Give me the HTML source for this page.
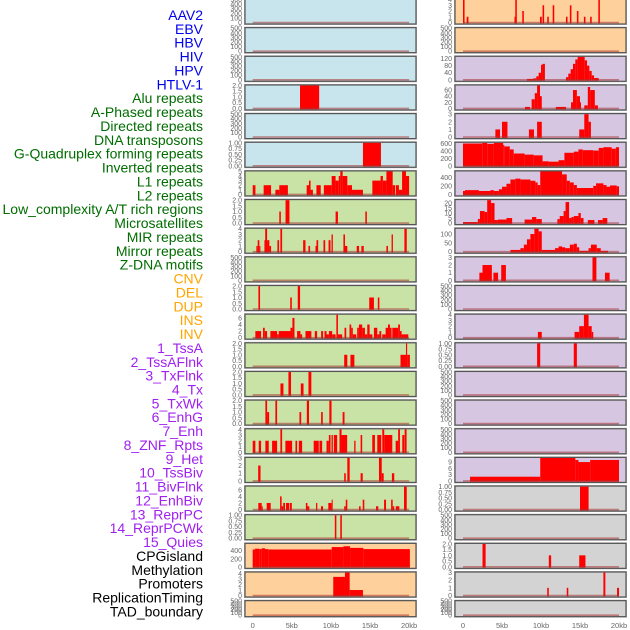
<!DOCTYPE html>
<html><head><meta charset="utf-8"><style>
html,body{margin:0;padding:0;background:#fff;}
svg{display:block;font-family:"Liberation Sans",sans-serif;}
</style></head><body>
<svg id="chart" width="630" height="630" viewBox="0 0 630 630" xmlns="http://www.w3.org/2000/svg">
<g id="labels"></g>
<g id="panels"></g>
<g id="xaxes"></g>
</svg>
<script>
const trackLabels = ["AAV2","EBV","HBV","HIV","HPV","HTLV-1","Alu repeats","A-Phased repeats","Directed repeats","DNA transposons","G-Quadruplex forming repeats","Inverted repeats","L1 repeats","L2 repeats","Low_complexity A/T rich regions","Microsatellites","MIR repeats","Mirror repeats","Z-DNA motifs","CNV","DEL","DUP","INS","INV","1_TssA","2_TssAFlnk","3_TxFlnk","4_Tx","5_TxWk","6_EnhG","7_Enh","8_ZNF_Rpts","9_Het","10_TssBiv","11_BivFlnk","12_EnhBiv","13_ReprPC","14_ReprPCWk","15_Quies","CPGisland","Methylation","Promoters","ReplicationTiming","TAD_boundary"];
const labelGroups = ["blue","blue","blue","blue","blue","blue","green","green","green","green","green","green","green","green","green","green","green","green","green","orange","orange","orange","orange","orange","purple","purple","purple","purple","purple","purple","purple","purple","purple","purple","purple","purple","purple","purple","purple","black","black","black","black","black"];
const leftBg = ["blue","blue","blue","blue","blue","blue","green","green","green","green","green","green","green","green","green","green","green","green","green","orange","orange","orange"];
const rightBg = ["orange","orange","purple","purple","purple","purple","purple","purple","purple","purple","purple","purple","purple","purple","purple","purple","purple","gray","gray","gray","gray","gray"];
const xTicks = [0,5,10,15,20];
const xTickLabels = ["0","5kb","10kb","15kb","20kb"];
const E = [0,100,200,300,400,500];
const leftYMax = [500,500,500,2,500,1,5,2,4,500,2,7,2,2,2,4,3,7,1,570,4.2,500];
const leftTicks = [E,E,E,[0,0.5,1,1.5,2],E,[0,0.25,0.5,0.75,1],[0,1,2,3,4,5],[0,0.5,1,1.5,2],[0,1,2,3,4],E,[0,0.5,1,1.5,2],[0,2,4,6],[0,0.5,1,1.5,2],[0,0.5,1,1.5,2],[0,0.5,1,1.5,2],[0,1,2,3,4],[0,1,2,3],[0,2,4,6],[0,0.25,0.5,0.75,1],[0,200,400],[0,1,2,3,4],E];
const leftBars = [
[],[],[],
[[6.05,8.5,2]],
[],
[[14.1,16.4,1]],
[[0,0.35,2],[1.4,2.35,2],[2.9,3.4,1],[3.4,4.5,2],[6.9,7.2,2],[7.2,7.4,3],[7.4,7.7,1],[8.15,8.7,2],[9.1,10.1,2],[10.1,10.6,4],[10.6,11.0,3],[11.0,11.2,4],[11.2,11.5,5],[11.5,12.1,4],[12.1,12.7,2],[12.7,14.1,1],[15.3,16.35,3],[16.35,16.65,4],[16.65,17.1,3],[17.1,17.9,5],[17.9,18.2,2],[18.3,18.7,2],[18.7,19.1,1],[19.1,19.6,5],[19.6,20,4]],
[[3.4,3.6,1],[4.2,4.7,2],[10.6,10.9,1],[14.4,14.6,1]],
[[0.47,0.64,1],[0.64,0.85,2],[0.85,0.98,1],[1.5,1.6,2],[1.6,1.84,4],[1.84,2.13,2],[2.13,2.35,1],[3.16,3.37,2],[3.54,3.76,4],[6.45,6.75,2],[7.13,7.34,1],[8.03,8.16,1],[8.16,8.37,2],[9.05,9.27,2],[9.7,9.95,2],[10.08,10.25,3],[11.6,11.8,3],[11.8,12.1,1],[13.3,13.6,1],[13.9,14.2,1],[17.1,17.3,1],[17.76,17.93,3],[19.4,19.7,4]],
[],
[[0.73,0.94,2],[4.8,5.0,1],[5.76,6.06,2],[14.9,15.5,1],[16.0,16.2,1]],
[[0.34,1.07,2],[1.32,1.54,3],[1.54,1.84,2],[2.26,3.12,2],[3.12,3.33,1],[3.33,4.83,2],[4.83,5.08,3],[5.08,5.34,6],[5.68,6.1,2],[6.1,6.32,1],[6.75,7.5,2],[7.94,8.24,2],[8.75,9.0,2],[9.18,9.44,2],[9.44,9.74,1],[9.74,10.16,2],[10.16,10.6,1],[10.7,10.9,7],[10.9,11.44,1],[11.74,11.96,3],[12.38,12.6,4],[12.6,12.8,3],[12.8,13.24,1],[13.36,13.58,3],[13.58,14.0,4],[14.0,14.35,3],[14.35,14.65,1],[14.65,14.95,4],[14.95,15.3,1],[15.5,15.93,3],[15.93,16.2,1],[16.2,16.44,2],[16.57,17.0,1],[17.0,17.3,3],[17.3,17.55,4],[17.55,17.76,3],[17.85,18.6,3],[18.6,18.83,4],[18.83,19.04,2],[19.04,19.9,1]],
[[11.7,12.1,1],[12.5,13.0,1],[18.9,19.6,1],[19.6,19.75,2],[19.75,20.1,1]],
[[3.55,3.93,1],[4.57,4.9,2],[6.15,6.5,1],[7.13,7.5,2]],
[[1.62,1.84,2],[1.84,2.1,1],[2.9,3.12,2],[5.98,6.2,1],[6.92,7.2,2],[8.75,8.96,1],[9.8,10.08,2],[11.5,11.74,1]],
[[0,0.34,2],[0.77,1.07,2],[1.62,2.05,2],[2.48,3.12,2],[3.54,3.76,4],[4.18,5.04,2],[5.47,5.68,2],[5.9,6.32,2],[7.8,8.45,2],[8.54,8.88,2],[9.44,9.74,2],[9.74,9.95,3],[10.08,10.25,3],[10.38,10.8,3],[11.1,11.36,4],[11.36,12.08,3],[12.98,13.15,2],[13.8,14.0,3],[15.29,15.63,3],[15.93,16.44,3],[16.57,16.82,4],[16.82,17.85,3],[18.28,18.6,2],[18.6,18.83,4],[19.13,19.39,3],[19.43,19.68,4]],
[[0.7,1.0,2],[11.7,11.9,1],[12.1,12.4,3],[13.8,14.07,1],[16.15,16.5,3],[16.5,16.75,1],[17.8,18.1,1]],
[[0.72,1.15,2],[1.15,1.28,1],[1.79,2.3,2],[3.5,3.7,4],[3.7,3.9,1],[3.9,4.13,2],[4.26,4.68,2],[4.77,5.0,2],[6.8,7.0,2],[7.0,7.24,1],[8.1,8.26,2],[8.73,9.0,1],[9.67,10.1,2],[10.1,10.2,3],[11.7,11.9,1],[11.9,12.1,3],[13.6,13.8,1],[14.07,14.27,3],[15.77,16.06,1],[16.8,17.05,3],[17.7,17.9,3],[17.9,18.1,1],[18.3,18.75,1],[19.35,19.7,7]],
[[10.5,10.7,1],[11.2,11.4,1]],
[[0,0.3,430],[0.3,0.85,450],[0.85,1.15,440],[1.15,1.57,460],[1.57,2.0,440],[2.0,10.1,430],[10.1,11.6,490],[11.6,12.45,510],[12.45,14.15,470],[14.15,20.1,440]],
[[10.3,11.8,3.4],[11.8,12.4,4.2],[12.4,14.1,1]],
[]
];
const rightYMax = [4,500,130,75,3,620,540,23,130,3,500,4,1,500,500,500,11,1,500,2,3,500];
const rightTicks = [[0,1,2,3,4],E,[0,40,80,120],[0,20,40,60],[0,1,2,3],[0,200,400,600],[0,200,400],[0,5,10,15,20],[0,50,100],[0,1,2,3],E,[0,1,2,3,4],[0,0.25,0.5,0.75,1],E,E,E,[0,3,6,9],[0,0.25,0.5,0.75,1],E,[0,0.5,1,1.5,2],[0,1,2,3],E];
const rightBars = [
[[0,0.2,4],[0.47,0.7,1],[6.6,6.7,1],[6.7,6.9,4],[7.6,7.8,2],[9.87,10.1,1],[10.2,10.4,3],[10.8,11.0,1],[11.5,11.7,3],[13.2,13.4,1],[13.7,13.9,3],[14.6,14.8,2],[15.5,15.7,1],[16.3,16.5,1],[17.35,17.55,4]],
[],
[[8.2,9.0,5],[9.0,9.4,8],[9.4,9.7,20],[9.7,10.0,40],[10.0,10.2,85],[10.2,10.5,90],[13.2,13.5,15],[13.5,13.8,35],[13.8,14.1,60],[14.1,14.4,90],[14.4,14.7,115],[14.7,15.6,130],[15.6,15.9,110],[15.9,16.2,80],[16.2,16.5,50],[16.5,16.8,25],[16.8,17.4,10]],
[[7.95,8.6,5],[8.8,9.2,30],[9.2,9.5,50],[9.5,9.87,75],[9.87,10.1,40],[11.9,13.2,5],[13.85,14.1,20],[14.1,14.6,60],[14.6,15.0,40],[15.0,15.1,20],[15.55,16.0,10],[16.0,16.3,70],[16.3,16.9,60],[16.9,17.3,10]],
[[4.15,4.75,1],[5.0,5.7,2],[8.45,9.1,1],[9.5,10.1,2],[14.9,15.55,1],[15.55,16.1,3],[16.1,16.4,2]],
[[0,2.47,600],[2.47,3.1,615],[3.1,3.96,590],[3.96,5.15,615],[5.15,5.3,560],[5.3,6.0,520],[6.0,6.5,440],[6.5,7.9,330],[7.9,9.06,300],[9.06,10.2,280],[10.2,11.0,120],[11.0,12.25,110],[12.25,13.0,150],[13.0,14.2,350],[14.2,14.8,380],[14.8,15.36,440],[15.36,16.7,420],[16.7,17.4,410],[17.4,18.0,480],[18.0,19.06,500],[19.06,19.6,460],[19.6,20,500]],
[[0,0.26,80],[0.26,2.04,100],[2.04,3.53,80],[3.53,3.96,100],[3.96,4.6,80],[4.6,5.0,120],[5.0,5.57,180],[5.57,6.08,250],[6.08,6.7,350],[6.7,7.36,370],[7.36,8.64,350],[8.64,9.28,320],[9.28,9.57,280],[9.57,9.9,220],[9.9,12.7,540],[12.7,13.3,470],[13.3,13.7,320],[13.7,14.2,280],[14.2,14.6,220],[14.6,16.7,150],[16.7,17.06,200],[17.06,18.0,260],[18.0,18.4,220],[18.4,18.85,180],[18.85,19.7,210],[19.7,20,190]],
[[0,1.9,1],[1.9,2.17,4],[2.17,2.77,12],[2.77,3.1,11],[3.1,3.6,23],[3.6,4.04,20],[4.04,4.47,3],[4.47,5.57,3.5],[5.57,6.3,5],[7.9,8.85,3.5],[8.85,9.4,6],[9.4,10.1,4],[12.1,12.4,4],[12.4,12.9,7],[12.9,13.15,12],[13.15,13.6,21],[13.6,13.9,5],[13.9,14.2,6],[14.2,14.8,7],[14.8,15.1,10],[15.1,15.45,5],[16.0,16.85,3],[17.3,17.9,3],[17.9,18.5,5]],
[[6.08,7.36,10],[7.36,7.8,20],[7.8,8.2,40],[8.2,8.64,70],[8.64,9.15,100],[9.15,9.7,130],[9.7,10.1,115],[10.1,11.8,10],[11.8,12.25,20],[12.25,12.7,30],[12.7,13.1,25],[13.1,13.7,20],[13.7,14.2,40],[14.2,14.6,45],[14.6,14.9,25],[14.9,16.1,5],[16.1,16.4,20],[16.4,17.15,40],[17.15,17.66,20],[17.66,18.6,5]],
[[2.1,2.5,1],[2.5,3.7,2],[3.9,4.5,1],[4.9,5.5,2],[16.6,17.1,3],[18.2,18.8,1]],
[],
[[9.6,10.1,1],[14.3,14.9,1],[14.9,15.5,2],[15.5,16.1,4],[16.1,16.5,2],[16.5,16.7,1]],
[[9.5,9.9,1],[14.2,14.6,1]],
[],[],[],
[[0.9,9.9,2],[9.9,14.4,11],[14.4,14.8,10],[14.8,16.3,9],[16.3,16.6,10],[16.6,20,10]],
[[15.0,16.1,1]],
[],
[[2.5,2.9,2],[11.0,11.3,1],[14.9,15.7,1]],
[[10.8,11.0,1],[13.3,13.5,1],[18.0,18.25,3],[19.75,20,1]],
[]
];

const NS = "http://www.w3.org/2000/svg";
const colorMap = {blue:"#0000ee",green:"#006d00",orange:"#ffa500",purple:"#a020f0",black:"#000"};
const bgMap = {blue:"#c8e4ec",green:"#c9e2a6",orange:"#fed09c",purple:"#d6c6e2",gray:"#d3d3d3"};
function mk(tag, attrs, parent){const e=document.createElementNS(NS,tag);for(const k in attrs)e.setAttribute(k,attrs[k]);parent.appendChild(e);return e;}

const labelsG = document.getElementById('labels');
trackLabels.forEach((t,i)=>{
  const el = mk('text',{x:203,y:15+i*13.87+5,'text-anchor':'end','font-size':'14',fill:colorMap[labelGroups[i]]},labelsG);
  
  
  el.textContent = t;
});

const panelsG = document.getElementById('panels');
function tickText(v, ticks){
  const hasFrac = ticks.some(x=>!Number.isInteger(x));
  if(!hasFrac) return String(v);
  const dec = ticks.some(x=>Math.round(x*100)%10!==0) ? 2 : 1;
  return v.toFixed(dec);
}
function drawPanel(col, i, ymax, ticks, bars, bg){
  const px = col===0 ? 245 : 455;
  const x0 = col===0 ? 252.7 : 463;
  const kx = col===0 ? 7.82 : 7.8;
  const top = -1 + i*28.65;
  const h = i===21 ? 16 : 25;
  const bottom = top + h;
  const yScale = v => (bottom-1.5) - v/ymax*(h-2);
  const xScale = kb => x0 + kb*kx;
  const g = mk('g',{},panelsG);
  
  
  mk('rect',{x:px-0.5,y:top-0.5,width:172,height:h+1,fill:'none',stroke:'#bbb','stroke-width':1},g);
  mk('rect',{x:px,y:top,width:171,height:h,fill:bgMap[bg],stroke:'#555','stroke-width':1.2},g);
  bars.forEach(b=>{
    const x1 = Math.max(px+1, xScale(b[0])), x2 = Math.min(px+170, xScale(b[1]));
    const yt = Math.max(top+0.6, yScale(b[2]));
    const r = mk('rect',{x:x1,y:yt,width:Math.max(1,x2-x1),height:(bottom-1.5)-yt+0.8,fill:'#ff0000'},g);
    
    
  });
  mk('line',{x1:xScale(0),x2:xScale(20),y1:bottom-1.5,y2:bottom-1.5,stroke:'rgba(170,50,50,0.55)','stroke-width':1.6},g);
  ticks.forEach(v=>{
    const t = mk('text',{x:px-3,y:yScale(v)+2.5,'text-anchor':'end','font-size':'7',fill:'#666'},g);
    
    
    t.textContent = tickText(v, ticks);
  });
}
for(let i=0;i<22;i++){
  drawPanel(0,i,leftYMax[i],leftTicks[i],leftBars[i],leftBg[i]);
  drawPanel(1,i,rightYMax[i],rightTicks[i],rightBars[i],rightBg[i]);
}
const xg = document.getElementById('xaxes');
[0,1].forEach(col=>{
  const x0 = col===0 ? 252.7 : 463, kx = col===0 ? 7.82 : 7.8;
  xTicks.forEach((v,j)=>{
    const t = mk('text',{x:x0+v*kx,y:628,'text-anchor':'middle','font-size':'7.5',fill:'#666'},xg);
    
    
    t.textContent = xTickLabels[j];
  });
});
</script>
</body></html>
